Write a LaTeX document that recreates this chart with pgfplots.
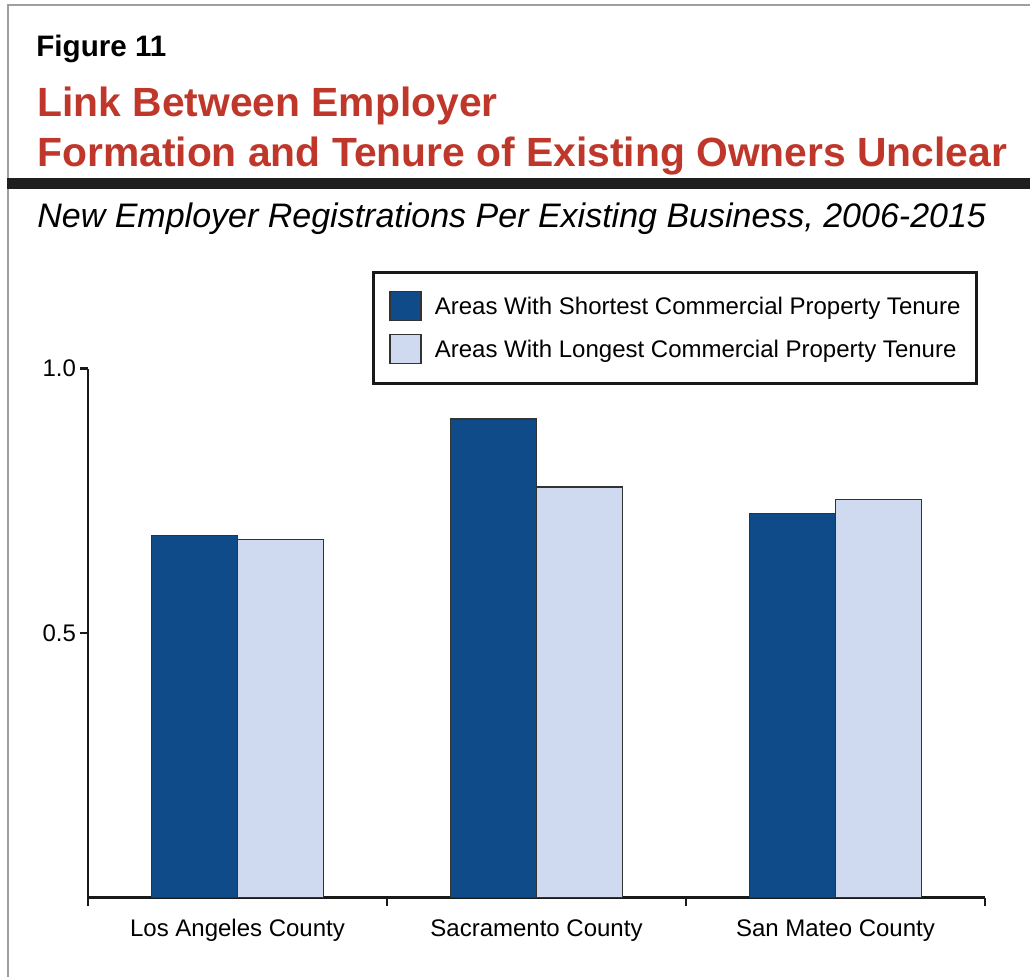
\documentclass[border=0pt]{standalone}
\usepackage{pgfplots}
\pgfplotsset{compat=1.18}
\usepackage{fontspec}
\setmainfont{Liberation Sans}
\definecolor{darkblue}{RGB}{15,74,137}
\definecolor{lightblue}{RGB}{207,218,240}
\definecolor{titlered}{RGB}{190,55,42}
\begin{document}
\begin{tikzpicture}
\useasboundingbox (0,0) rectangle (515pt,-488.5pt);
% frame
\draw[gray!75, line width=1pt] (4pt,-490pt) -- (4pt,-2.5pt) -- (520pt,-2.5pt);
\fill[black!88] (3.5pt,-89.2pt) rectangle (516pt,-94.6pt);
\node[anchor=base west, inner sep=0pt, font=\bfseries\fontsize{14.8}{18}\selectfont] at (18pt,-28.5pt) {Figure 11};
\node[anchor=base west, inner sep=0pt, text=titlered, font=\bfseries\fontsize{20.4}{24}\selectfont] at (18.5pt,-58.3pt) {Link Between Employer};
\node[anchor=base west, inner sep=0pt, text=titlered, font=\bfseries\fontsize{20.4}{24}\selectfont] at (18.5pt,-83.3pt) {Formation and Tenure of Existing Owners Unclear};
\node[anchor=base west, inner sep=0pt, font=\itshape\fontsize{17}{20}\selectfont] at (18.5pt,-114pt) {New Employer Registrations Per Existing Business, 2006-2015};
\begin{axis}[
  at={(44pt,-448.8pt)}, anchor=south west,
  scale only axis, width=448.5pt, height=264.5pt,
  xmin=-0.5, xmax=2.5, ymin=0, ymax=1,
  axis x line*=bottom, axis y line*=left,
  axis line style={line width=1.4pt, black!90, -},
  ybar=0pt, bar width=43pt,
  xtick={-0.5,0.5,1.5,2.5},
  xticklabels={},
  tick style={line width=1.4pt, black!90},
  major tick style={line width=1.4pt, black!90},
  extra x ticks={0,1,2},
  extra x tick labels={Los Angeles County, Sacramento County, San Mateo County},
  extra x tick style={tick style={draw=none}, major tick style={draw=none}},
  ytick={0.5,1}, yticklabels={0.5,1.0},
  tick align=outside, major tick length=4pt,
  xticklabel style={font=\fontsize{12}{14}\selectfont, anchor=base, yshift=-15.5pt},
  yticklabel style={font=\fontsize{12}{14}\selectfont, xshift=1.5pt},
  clip=false,
  legend style={at={(0.3166,1.1853)}, anchor=north west, draw=black!90, line width=1.5pt,
    inner xsep=8pt, inner ysep=9.5pt, row sep=6.3pt, column sep=6.5pt,
    font=\fontsize{12}{14}\selectfont,
    nodes={inner sep=0pt, text height=9pt, text depth=2.5pt}},
  legend cell align=left,
  legend image code/.code={\draw[#1, line width=0.7pt] (0pt,-6.2pt) rectangle (15.5pt,8.3pt);},
]
\addplot[fill=darkblue, draw=black!80, line width=0.7pt] coordinates {(0,0.685) (1,0.905) (2,0.726)};
\addplot[fill=lightblue, draw=black!80, line width=0.7pt] coordinates {(0,0.677) (1,0.776) (2,0.753)};
\legend{Areas With Shortest Commercial Property Tenure, Areas With Longest Commercial Property Tenure}
\end{axis}
\end{tikzpicture}
\end{document}
